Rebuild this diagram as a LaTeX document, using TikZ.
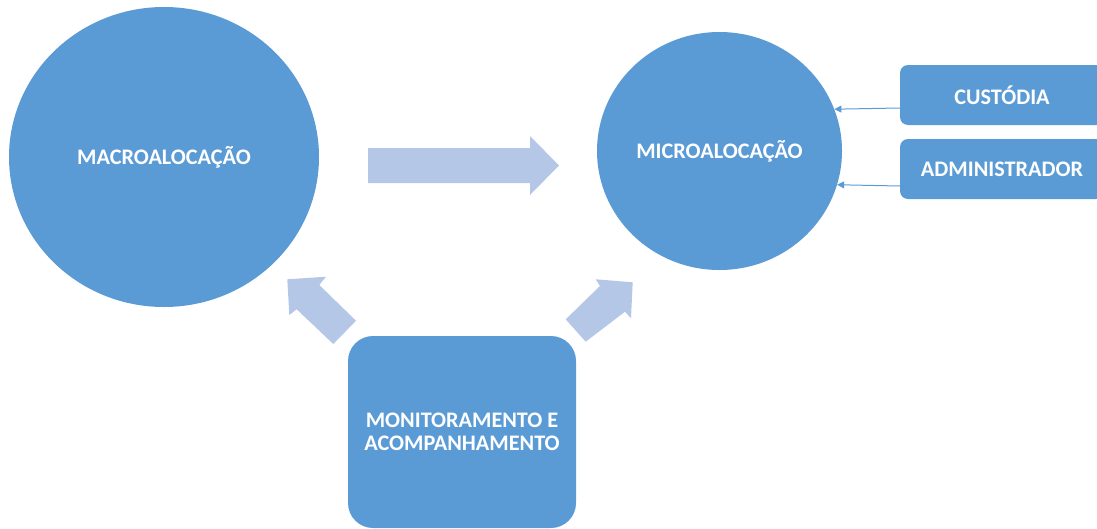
\documentclass[tikz,border=0pt]{standalone}
\usepackage{fontspec}
\setmainfont{Carlito}
\usetikzlibrary{shapes.geometric,arrows.meta}
\definecolor{nodeblue}{HTML}{5B9BD5}
\definecolor{arrowblue}{HTML}{B4C7E7}
\tikzset{
  txt/.style={text=white, font=\fontsize{22.2}{23.5}\selectfont\bfseries, align=center, inner sep=0pt},
  bigcircle/.style={ellipse, fill=nodeblue, txt},
  boxnode/.style={rectangle, fill=nodeblue, txt},
  blockarrow/.style={fill=arrowblue},
  conn/.style={draw=nodeblue, line width=1pt, -{Triangle[length=7pt,width=7pt]}}
}
\begin{document}
\begin{tikzpicture}[x=1pt,y=-1pt]
\useasboundingbox (0,0) rectangle (1097,528);
\begin{scope}
\clip (0,0) rectangle (1097,528);
\node[bigcircle, minimum width=310pt, minimum height=300pt] (macro) at (164,157) {MACROALOCAÇÃO};
\node[bigcircle, minimum width=245pt, minimum height=238pt] (micro) at (719.5,151) {MICROALOCAÇÃO};
\node[boxnode, rounded corners=8pt, minimum width=204pt, minimum height=60pt] (cus) at (1002,95) {CUSTÓDIA};
\node[boxnode, rounded corners=8pt, minimum width=204pt, minimum height=60pt] (adm) at (1002,169) {ADMINISTRADOR};
\node[boxnode, rounded corners=25pt, minimum width=228pt, minimum height=192pt] (mon) at (462,432) {MONITORAMENTO E\\ACOMPANHAMENTO};
\end{scope}
% block arrows
\fill[blockarrow] (368,148) -- (530,148) -- (530,136) -- (559,165.5) -- (530,195) -- (530,183) -- (368,183) -- cycle;
\fill[blockarrow] (356,320.7) -- (319.3,285) -- (326,276.7) -- (287.3,279.3) -- (289.3,315) -- (296.7,309.3) -- (333.3,344) -- cycle;
\fill[blockarrow] (565.7,319.3) -- (600,286) -- (595.7,279.3) -- (632.7,282.3) -- (631,318.3) -- (625,311.7) -- (585.7,341.7) -- cycle;
% connectors
\draw[conn] ([yshift=-13pt]cus.west) -- (micro.20.6);
\draw[conn] ([yshift=-17pt]adm.west) -- (micro.-16.7);
\end{tikzpicture}
\end{document}
